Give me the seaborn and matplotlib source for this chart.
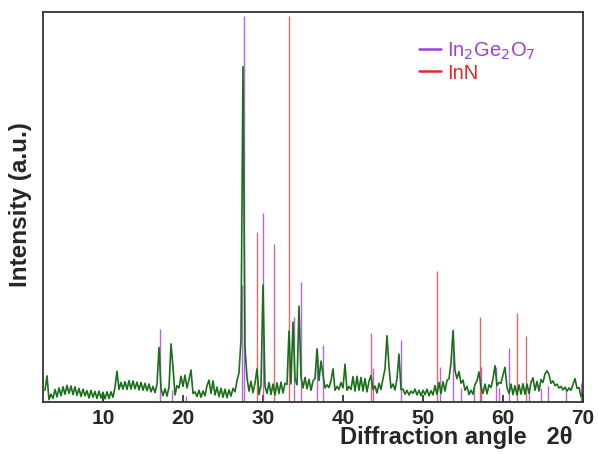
import numpy as np
import pandas as pd
import matplotlib
matplotlib.use('Agg')
import matplotlib.pyplot as plt
from matplotlib.lines import Line2D
import seaborn as sns

# measured pattern, 0.25 deg steps from 2.75 to 70.0
two_theta_start = 2.75
two_theta_step = 0.25
intensity = [
    3.0, 6.7, 0.6, 2.0, 0.9, 3.2, 1.3, 3.6, 1.6, 3.9, 2.0, 4.3, 2.2, 4.1, 1.9, 3.9, 1.7, 3.5, 1.4, 3.3,   # 2.75-7.5
    1.6, 2.9, 1.0, 3.0, 1.2, 2.7, 0.9, 2.8, 1.0, 2.5, 0.8, 2.6, 0.9, 2.6, 1.2, 3.8, 7.9, 3.2, 5.0, 3.3,   # 7.75-12.5
    5.2, 3.2, 5.5, 3.3, 5.4, 3.4, 5.1, 3.1, 5.0, 3.0, 4.8, 2.9, 4.6, 2.6, 4.0, 2.4, 4.5, 14.0, 3.5, 1.6,  # 12.75-17.5
    3.4, 1.5, 3.8, 14.9, 9.0, 1.8, 4.2, 3.6, 6.6, 4.0, 6.9, 3.6, 5.8, 8.2, 2.2, 2.6, 1.4, 3.0, 1.2, 2.8,  # 17.75-22.5
    1.6, 4.2, 5.6, 2.2, 5.4, 1.8, 3.8, 1.4, 3.5, 1.2, 3.3, 1.1, 3.1, 1.5, 3.5, 2.6, 5.5, 7.5, 16.0, 86.0, # 22.75-27.5
    14.0, 6.2, 2.8, 5.3, 2.4, 4.8, 8.5, 1.9, 4.3, 30.0, 4.0, 2.2, 5.0, 1.9, 4.6, 1.8, 4.9, 2.2, 5.1, 2.3, # 27.75-32.5
    4.8, 4.5, 18.2, 4.6, 20.5, 6.0, 4.4, 24.6, 6.5, 3.6, 6.3, 3.4, 5.8, 3.0, 5.4, 6.0, 13.6, 5.5, 10.5, 7.0,  # 32.75-37.5
    3.6, 4.4, 3.7, 5.5, 8.5, 3.0, 4.0, 3.2, 5.0, 3.6, 9.7, 3.0, 4.0, 3.2, 6.5, 2.8, 6.6, 3.0, 6.3, 2.8,   # 37.75-42.5
    6.0, 2.6, 5.3, 6.8, 3.2, 4.1, 2.3, 4.8, 3.2, 6.0, 8.5, 17.0, 9.0, 3.6, 4.6, 3.1, 6.0, 12.3, 3.2, 3.3,  # 42.75-47.5
    2.0, 3.0, 1.8, 2.8, 2.2, 3.3, 1.8, 3.0, 1.6, 3.0, 1.9, 3.3, 1.6, 2.9, 1.8, 4.2, 2.0, 5.0, 2.2, 5.2,   # 47.75-52.5
    2.8, 5.5, 6.0, 10.0, 18.2, 8.0, 6.0, 7.8, 4.8, 5.6, 3.0, 4.0, 1.9, 3.0, 2.0, 4.5, 5.5, 7.7, 3.8, 2.2,  # 52.75-57.5
    4.6, 2.1, 4.4, 3.7, 6.0, 9.3, 4.2, 5.0, 4.8, 7.0, 8.9, 3.7, 2.2, 4.6, 1.9, 4.2, 1.8, 4.4, 2.0, 4.7,   # 57.75-62.5
    2.0, 4.6, 2.2, 5.0, 6.2, 3.0, 5.3, 2.8, 5.8, 5.0, 7.2, 8.0, 7.0, 4.8, 5.4, 4.2, 4.6, 3.6, 4.0, 3.1,   # 62.75-67.5
    3.8, 2.8, 3.6, 3.0, 4.5, 6.0, 3.5, 3.7, 1.4, 2.4,                                                    # 67.75-70.0
]

# reference patterns (stick positions and relative heights)
in2ge2o7_pos = [17.1, 18.6, 20.4, 27.35, 27.65, 30.0, 33.9, 34.7, 36.8, 37.5, 43.8, 47.2, 52.1, 53.8,
                54.8, 56.4, 57.25, 59.1, 59.5, 60.7, 63.25, 64.7, 65.6, 67.9, 69.8]
in2ge2o7_int = [18.7, 3.0, 1.5, 30.0, 99.0, 48.5, 21.8, 30.8, 13.8, 14.6, 8.7, 15.9, 9.0, 18.7,
                3.5, 3.5, 9.0, 9.0, 3.5, 13.8, 3.5, 3.5, 4.0, 3.0, 5.0]
inn_pos = [29.2, 31.4, 33.3, 43.45, 51.7, 57.1, 61.8, 62.9]
inn_int = [43.6, 40.5, 99.0, 17.7, 33.7, 21.8, 22.8, 16.9]

xticks = [10, 20, 30, 40, 50, 60, 70]

two_theta = two_theta_start + two_theta_step * np.arange(len(intensity))
df = pd.DataFrame({'two_theta': two_theta, 'intensity': intensity})

sns.set_style('white')
plt.rcParams['font.family'] = ['Liberation Sans', 'DejaVu Sans']

fig = plt.figure(figsize=(5.98, 4.56), dpi=100)
ax = fig.add_axes([43 / 598, 53 / 456, 540 / 598, 390 / 456])

purple = '#a13fd8'
red = '#df2a2a'

ax.vlines(in2ge2o7_pos, 0, in2ge2o7_int, color=purple, lw=1.0, alpha=0.8, zorder=1)
ax.vlines(inn_pos, 0, inn_int, color=red, lw=1.0, alpha=0.7, zorder=1)
sns.lineplot(data=df, x='two_theta', y='intensity', color='#1a701a', lw=1.2,
             sort=False, estimator=None, ax=ax, zorder=2)

ax.set_xlim(2.5, 70)
ax.set_ylim(0, 100)
ax.set_xticks(xticks)
ax.set_yticks([])
ax.tick_params(axis='x', direction='in', length=5, width=1.2, bottom=True, labelsize=15, pad=4)
for lab in ax.get_xticklabels():
    lab.set_fontweight('bold')

for sp in ax.spines.values():
    sp.set_color('#333333')
    sp.set_linewidth(1.3)

ax.set_xlabel('Diffraction angle   2\u03b8', fontsize=17, fontweight='bold')
ax.xaxis.set_label_coords(0.765, -0.06)
ax.set_ylabel('Intensity (a.u.)', fontsize=17.5, fontweight='bold')
ax.yaxis.set_label_coords(-0.02, 0.51)

handles = [Line2D([0], [0], color=purple, lw=1.8), Line2D([0], [0], color=red, lw=1.8)]
leg = ax.legend(handles, ['In$_2$Ge$_2$O$_7$', 'InN'], loc='upper left', bbox_to_anchor=(0.662, 0.975),
                frameon=False, fontsize=14.5, handlelength=1.1, handletextpad=0.3, labelspacing=0.1)
leg.get_texts()[0].set_color(purple)
leg.get_texts()[1].set_color(red)

fig.savefig('out.png', dpi=100)
